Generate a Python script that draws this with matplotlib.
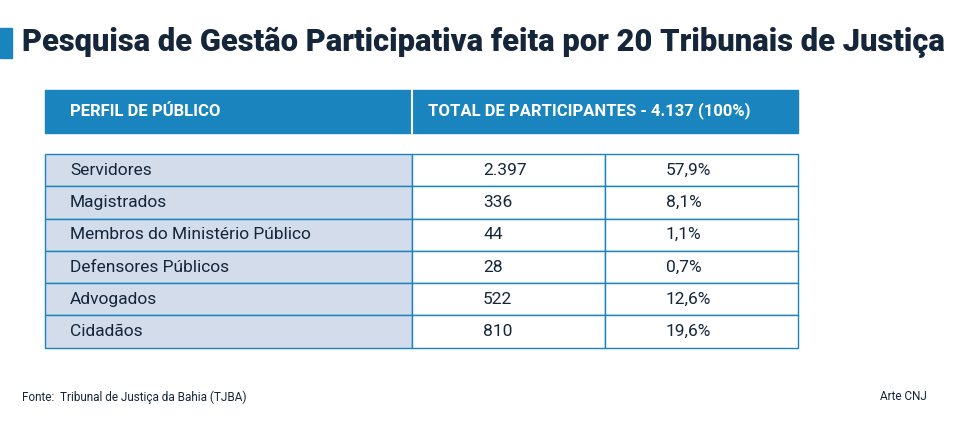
import matplotlib
matplotlib.use("Agg")
import matplotlib.pyplot as plt
from matplotlib.patches import Rectangle

title = "Pesquisa de Gestão Participativa feita por 20 Tribunais de Justiça"
headers = ["PERFIL DE PÚBLICO", "TOTAL DE PARTICIPANTES - 4.137 (100%)"]
categories = ["Servidores", "Magistrados", "Membros do Ministério Público",
              "Defensores Públicos", "Advogados", "Cidadãos"]
counts = ["2.397", "336", "44", "28", "522", "810"]
percents = ["57,9%", "8,1%", "1,1%", "0,7%", "12,6%", "19,6%"]
source = "Fonte:  Tribunal de Justiça da Bahia (TJBA)"
credit = "Arte CNJ"

BLUE = "#1a84bf"
NAVY = "#15263a"
LIGHT = "#d3dceb"
FONT = "Roboto"

fig = plt.figure(figsize=(9.6, 4.23), dpi=100)
ax = fig.add_axes([0, 0, 1, 1])
ax.set_xlim(0, 960); ax.set_ylim(423, 0); ax.axis("off")

ax.add_patch(Rectangle((0, 28), 12, 30, color=BLUE))
ax.text(22, 43, title, fontsize=22.2, fontweight="heavy", color=NAVY,
        va="center", ha="left", family=FONT)

ax.add_patch(Rectangle((45, 90), 753, 43, color=BLUE))
ax.plot([412, 412], [90, 133], color="white", lw=1.5)
ax.text(70, 111, headers[0], fontsize=12, fontweight="bold", color="white", va="center", family=FONT)
ax.text(428, 111, headers[1], fontsize=12, fontweight="bold", color="white", va="center", family=FONT)

top, rh = 154, 32.3
x0, x1, x2, x3 = 45, 412, 605, 798
for i, (c, n, p) in enumerate(zip(categories, counts, percents)):
    y = top + i * rh
    ax.add_patch(Rectangle((x0, y), x1 - x0, rh, facecolor=LIGHT, edgecolor=BLUE, lw=1))
    ax.add_patch(Rectangle((x1, y), x2 - x1, rh, facecolor="white", edgecolor=BLUE, lw=1))
    ax.add_patch(Rectangle((x2, y), x3 - x2, rh, facecolor="white", edgecolor=BLUE, lw=1))
    yc = y + rh / 2
    ax.text(70, yc, c, fontsize=12.5, color=NAVY, va="center", family=FONT)
    ax.text(483, yc, n, fontsize=12.5, color=NAVY, va="center", family=FONT)
    ax.text(666, yc, p, fontsize=12.5, color=NAVY, va="center", family=FONT)

ax.text(22, 397, source, fontsize=8.5, color=NAVY, va="center", family=FONT)
ax.text(927, 397, credit, fontsize=8.5, color=NAVY, va="center", ha="right", family=FONT)

fig.savefig("out.png", dpi=100, facecolor="white")
